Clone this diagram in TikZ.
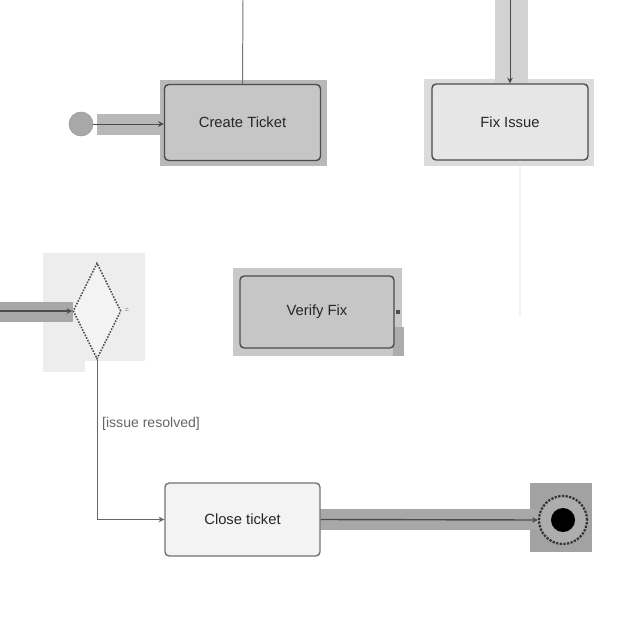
\documentclass[tikz,border=0pt]{standalone}
\usepackage{fontspec}
\setmainfont{Liberation Sans}
\usetikzlibrary{shapes.geometric,arrows.meta}
\definecolor{haloC}{HTML}{B8B8B8}
\definecolor{haloF}{HTML}{DCDCDC}
\definecolor{haloV}{HTML}{C8C8C8}
\definecolor{haloD}{HTML}{EDEDED}
\definecolor{haloE}{HTML}{A2A2A2}
\definecolor{bandA}{HTML}{A8A8A8}
\definecolor{bandF}{HTML}{D2D2D2}
\definecolor{fillC}{HTML}{C6C6C6}
\definecolor{fillF}{HTML}{E6E6E6}
\definecolor{fillCl}{HTML}{F3F3F3}
\begin{document}
\begin{tikzpicture}[x=0.025cm,y=-0.025cm,
    state/.style={draw=black!70,line width=1pt,rounded corners=3pt,minimum width=3.9cm,minimum height=1.9cm,inner sep=0pt,font=\fontsize{10.5}{12}\selectfont,text=black!85},
    trans/.style={draw=black!70,line width=0.7pt},
    arr/.style={trans,-{Stealth[length=4pt,width=4pt]}}]
                \useasboundingbox[fill=white] (0,0) rectangle (640,640);
                \fill[haloC] (160,80) rectangle (327,166);
                \fill[haloF] (424,79) rectangle (594,166);
                \fill[haloV] (233,268) rectangle (402,356);
                \fill[black!32] (393,327) rectangle (404,356);
                \fill[haloD] (43,253) rectangle (145,361);
                \fill[haloD] (43,361) rectangle (85,372);
                \fill[haloE] (530,483) rectangle (592,552);
                \fill[haloC] (97,114) rectangle (163,135);
                \fill[bandA] (0,302) rectangle (73,322);
                \fill[bandA] (320,509) rectangle (545,530);
                \fill[bandF] (495,0) rectangle (528,84);
                \node[circle,fill=bandA,draw=black!40,minimum size=0.6cm,inner sep=0pt] (init) at (81,124) {};
                \node[state,fill=fillC] (create) at (242.5,122.5) {Create Ticket};
                \node[state,fill=fillF] (fix) at (510,122) {Fix Issue};
                \node[state,fill=fillC,minimum width=3.85cm,minimum height=1.8cm] (verify) at (317,312) {Verify Fix};
                \node[state,fill=fillCl,draw=black!55,minimum width=3.875cm,minimum height=1.825cm] (close) at (242.5,519.5) {Close ticket};
                \node[diamond,fill=fillCl,draw=black!70,densely dotted,line width=1.1pt,minimum width=1.2cm,minimum height=2.4cm,inner sep=0pt] (choice) at (97,311) {};
                \node[circle,fill=black!32,draw=black!80,densely dotted,line width=1.6pt,minimum size=1.2cm,inner sep=0pt] (final) at (563,520) {};
                \node[circle,fill=black,minimum size=0.6cm,inner sep=0pt] (finaldot) at (final) {};
                \coordinate (topC) at (243,0);
                \coordinate (topF) at (510,0);
                \coordinate (leftD) at (0,311);
                \coordinate (fixdown) at (520,316);
                \node[font=\tiny,text=black!55,inner sep=0pt] (choicemark) at (127,311) {=};
                \node[fill=black!70,inner sep=0pt,minimum size=3pt] (verifymark) at (398,312) {};
                \draw[arr] (init.east) -- (init.east -| create.west);
                \draw[trans,draw=black!55] (topC) -- (create.north);
                \draw[arr] (topF) -- (fix.north);
                \draw[black!10,line width=0.5pt] ([xshift=0.25cm]fix.south) -- (fixdown);
                \draw[arr,line width=1pt] (leftD) -- (choice.west);
                \draw[arr,draw=black!60] (choice.south) |- (close.west) node[pos=0.2,right,font=\fontsize{10}{12}\selectfont,text=black!60]{[issue resolved]};
                \draw[arr,line width=1pt] (close.east) -- (final.west);
            \end{tikzpicture}
\end{document}
